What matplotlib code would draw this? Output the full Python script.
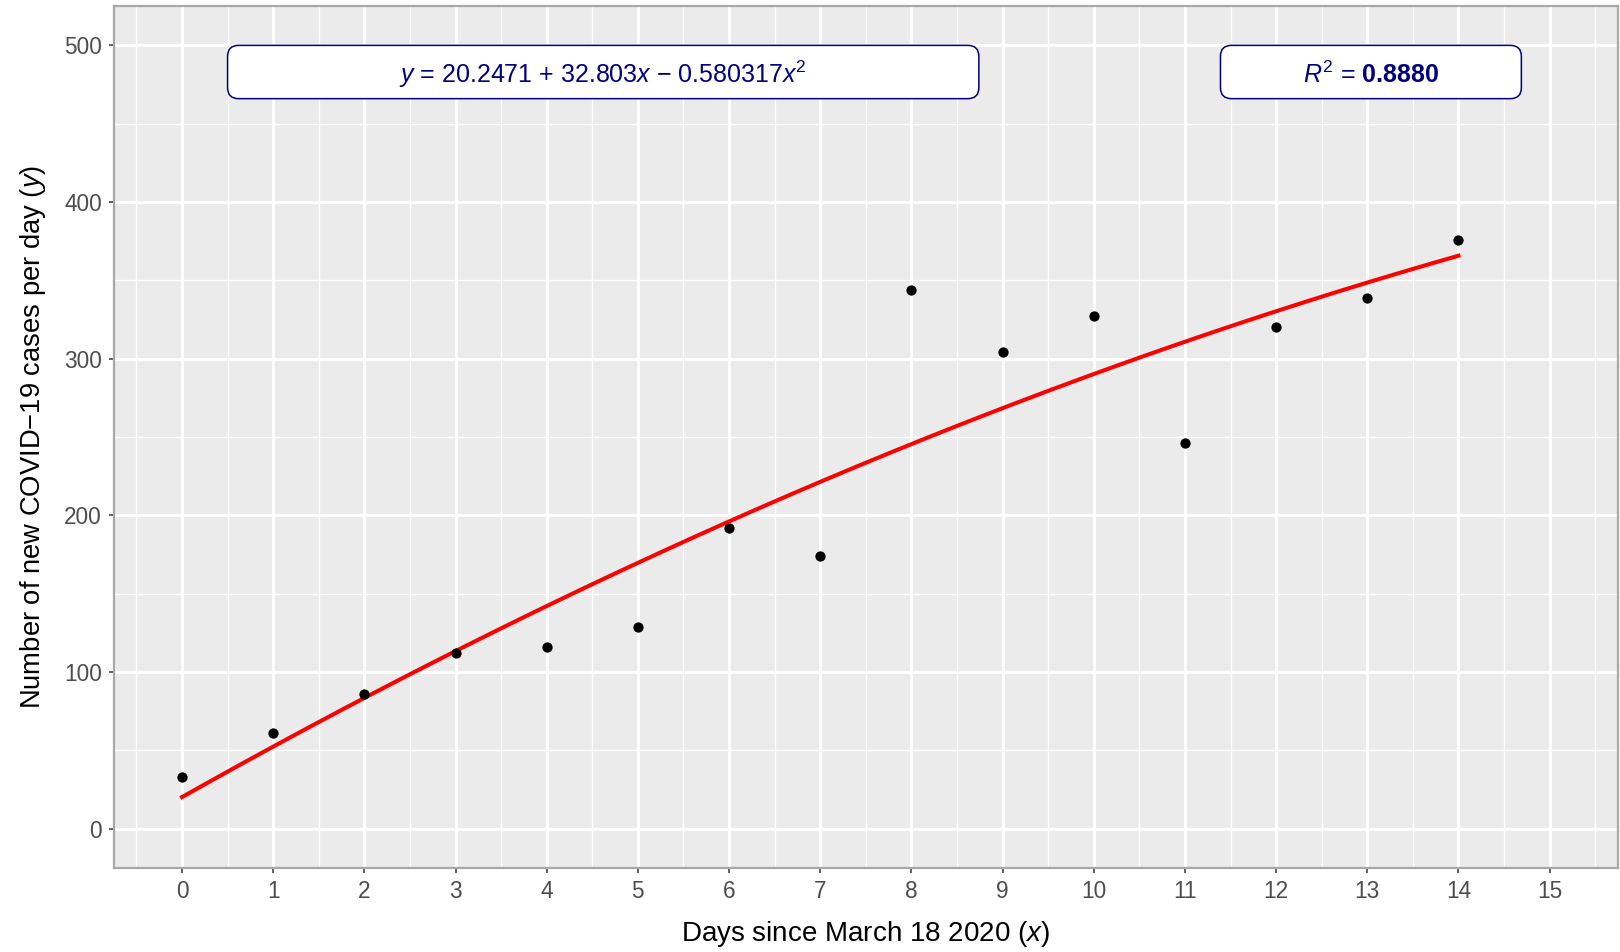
import matplotlib
matplotlib.use("Agg")
import matplotlib.pyplot as plt
from matplotlib.patches import FancyBboxPatch
from matplotlib.ticker import MultipleLocator
import numpy as np

# days since March 18 2020 and new cases per day
days = [0, 1, 2, 3, 4, 5, 6, 7, 8, 9, 10, 11, 12, 13, 14]
cases = [33, 61, 86, 112, 116, 129, 192, 174, 344, 304, 327, 246, 320, 339, 376]

eq_label = r"$y$ = 20.2471 + 32.803$x$ − 0.580317$x^2$"
r2_label = r"$R^2$ = $\mathbf{0.8880}$"

plt.rcParams['font.family'] = ['Liberation Sans', 'DejaVu Sans']
plt.rcParams['mathtext.fontset'] = 'custom'
plt.rcParams['mathtext.rm'] = 'Liberation Sans'
plt.rcParams['mathtext.it'] = 'Liberation Sans:italic'
plt.rcParams['mathtext.bf'] = 'Liberation Sans:bold'

W, H = 1620, 952
fig = plt.figure(figsize=(W / 100, H / 100), dpi=100)
left, right, top, bottom = 113.6, 1618, 6.2, 868
ax = fig.add_axes([left / W, 1 - bottom / H, (right - left) / W, (bottom - top) / H])

ax.set_facecolor('#EBEBEB')
ax.set_xlim(-0.75, 15.75)
ax.set_ylim(-25, 525)
ax.xaxis.set_major_locator(MultipleLocator(1))
ax.xaxis.set_minor_locator(MultipleLocator(0.5))
ax.yaxis.set_major_locator(MultipleLocator(100))
ax.yaxis.set_minor_locator(MultipleLocator(50))
ax.grid(which='major', color='white', lw=2.1)
ax.grid(which='minor', color='white', lw=1.0)
ax.set_axisbelow(True)
for s in ax.spines.values():
    s.set_color('#A8A8A8')
    s.set_linewidth(1.6)
ax.tick_params(which='major', length=3.8, width=1.1, color='#333333',
               labelsize=16.3, labelcolor='#4D4D4D', pad=4.5)
ax.tick_params(which='minor', length=0)

# quadratic fit like geom_smooth(method="lm", formula=y~poly(x,2))
coef = np.polyfit(days, cases, 2)
xs = np.linspace(min(days), max(days), 200)
ax.plot(xs, np.polyval(coef, xs), color='red', lw=2.9, zorder=3)
ax.scatter(days, cases, s=55, color='black', zorder=4, linewidths=0)

# label boxes
asp = (1 / 1.566) / (1 / 91.27)
for x0, x1, lab in [(0.5, 8.74, eq_label), (11.39, 14.69, r2_label)]:
    box = FancyBboxPatch((x0, 466), x1 - x0, 34,
                         boxstyle='round,pad=0,rounding_size=0.12',
                         mutation_aspect=asp, facecolor='white',
                         edgecolor='#000080', lw=1.1, zorder=5)
    ax.add_patch(box)
    ax.text((x0 + x1) / 2, 481.5, lab, color='#000080', fontsize=18,
            ha='center', va='center', zorder=6)

ax.set_xlabel(r"Days since March 18 2020 ($x$)", fontsize=20, labelpad=12)
ax.set_ylabel(r"Number of new COVID−19 cases per day ($y$)", fontsize=19.7, labelpad=12)

fig.savefig('out.png', dpi=100)
